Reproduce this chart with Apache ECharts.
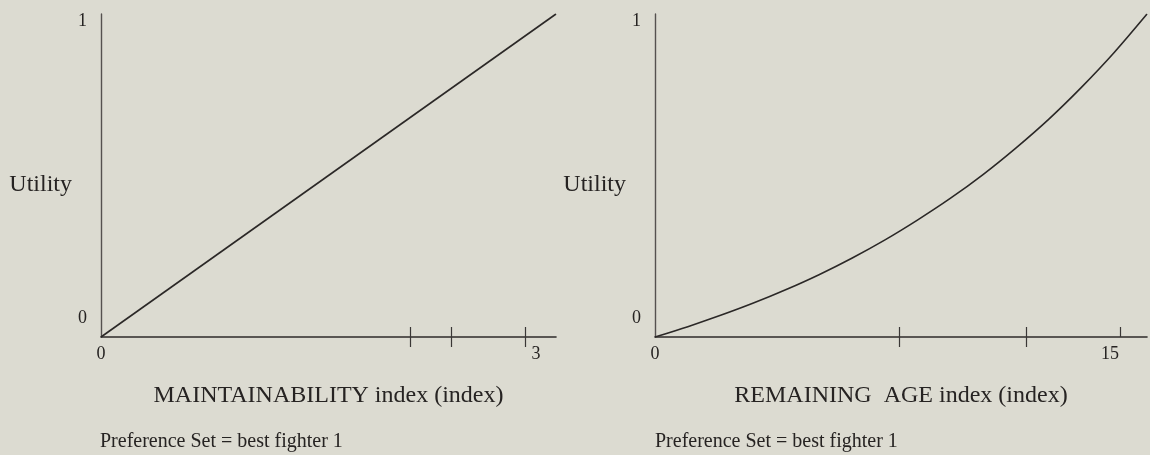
<!DOCTYPE html>
<html>
<head>
<meta charset="utf-8">
<script src="https://cdn.jsdelivr.net/npm/echarts/dist/echarts.min.js"></script>
<style>
  html, body { margin: 0; padding: 0; background: #dcdbd1; }
  #chart { width: 1150px; height: 455px; }
</style>
</head>
<body>
<div id="chart"></div>
<script>
// ---- data ----
var maintIndex = [0, 3];
var maintUtility = [0, 1];
var ageIndex = [0, 1, 2, 3, 4, 5, 6, 7, 8, 9, 10, 11, 12, 13, 14, 15];
var ageUtility = [0, 0.032, 0.067, 0.105, 0.147, 0.193, 0.244, 0.300, 0.362, 0.429, 0.503, 0.585, 0.674, 0.773, 0.881, 1];
var maintTickLabels = [0, 3];
var ageTickLabels = [0, 15];
var utilityTickLabels = [0, 1];
var maintTicks = [2.04, 2.31, 2.8];
var ageTicksCross = [7.44, 11.31];
var ageTicksUp = [7.44, 11.31, 14.18];
var maintTitle = 'MAINTAINABILITY index (index)';
var ageTitle = 'REMAINING  AGE index (index)';
var yTitle = 'Utility';
var caption = 'Preference Set = best fighter 1';

// ---- helpers ----
function pairs(xs, ys) { return xs.map(function (x, i) { return [x, ys[i]]; }); }
var serif = '"Liberation Serif", "Times New Roman", serif';
var ink = '#262322';

function xAxes(gridIndex, max, labels, crossTicks, upTicks, title) {
  return [{
    type: 'value', gridIndex: gridIndex, min: 0, max: max, position: 'bottom',
    name: title, nameLocation: 'middle', nameGap: 47,
    nameTextStyle: { fontFamily: serif, fontSize: 24, color: ink },
    axisLine: { show: true, onZero: false, lineStyle: { color: '#2e2b2a', width: 1.6 } },
    axisTick: { show: true, length: 10, lineStyle: { color: '#3a3736', width: 1.2 }, customValues: crossTicks },
    axisLabel: {
      show: true, margin: 8, customValues: labels, fontFamily: serif, fontSize: 18, color: ink,
      formatter: function (v) { return v === max ? '{e|' + v + '}' : '{s|' + v + '}'; },
      rich: {
        s: { fontFamily: serif, fontSize: 18, color: ink },
        e: { fontFamily: serif, fontSize: 18, color: ink, padding: [0, gridIndex === 0 ? 40 : 74, 0, 0] }
      }
    },
    splitLine: { show: false }
  }, {
    type: 'value', gridIndex: gridIndex, min: 0, max: max, position: 'bottom',
    axisLine: { show: false, onZero: false },
    axisTick: { show: true, inside: true, length: 10, lineStyle: { color: '#3a3736', width: 1.2 }, customValues: upTicks },
    axisLabel: { show: false },
    splitLine: { show: false }
  }];
}

function yAxis(gridIndex) {
  return {
    type: 'value', gridIndex: gridIndex, min: 0, max: 1,
    name: yTitle, nameLocation: 'middle', nameRotate: 0, nameGap: 29,
    nameTextStyle: { fontFamily: serif, fontSize: 24, color: ink, align: 'right', verticalAlign: 'top', lineHeight: 18 },
    axisLine: { show: true, onZero: false, lineStyle: { color: '#55514f', width: 1.4 } },
    axisTick: { show: false },
    axisLabel: {
      show: true, margin: 14, customValues: utilityTickLabels,
      formatter: function (v) { return v === 1 ? '{hi|1}' : '{lo|0}'; },
      rich: {
        hi: { fontFamily: serif, fontSize: 18, color: ink, padding: [14, 0, 0, 0] },
        lo: { fontFamily: serif, fontSize: 18, color: ink, padding: [0, 0, 38, 0] }
      }
    },
    splitLine: { show: false }
  };
}

var chart = echarts.init(document.getElementById('chart'), null, { renderer: 'canvas' });
var xa = xAxes(0, 3, maintTickLabels, maintTicks, maintTicks, maintTitle)
  .concat(xAxes(1, 15, ageTickLabels, ageTicksCross, ageTicksUp, ageTitle));

chart.setOption({
  backgroundColor: '#dcdbd1',
  animation: false,
  grid: [
    { left: 101, top: 14, width: 455, height: 323, outerBoundsMode: 'none' },
    { left: 655, top: 14, width: 492, height: 323, outerBoundsMode: 'none' }
  ],
  xAxis: xa,
  yAxis: [yAxis(0), yAxis(1)],
  series: [
    {
      type: 'line', xAxisIndex: 0, yAxisIndex: 0, data: pairs(maintIndex, maintUtility),
      showSymbol: false, lineStyle: { color: '#2b2827', width: 1.6 }
    },
    {
      type: 'line', xAxisIndex: 2, yAxisIndex: 1, data: pairs(ageIndex, ageUtility),
      smooth: 0.3, showSymbol: false, lineStyle: { color: '#2b2827', width: 1.6 }
    }
  ],
  graphic: [
    { type: 'text', left: 100, top: 432, style: { text: caption, font: '20px ' + serif, fill: ink } },
    { type: 'text', left: 655, top: 432, style: { text: caption, font: '20px ' + serif, fill: ink } }
  ]
});
</script>
</body>
</html>
